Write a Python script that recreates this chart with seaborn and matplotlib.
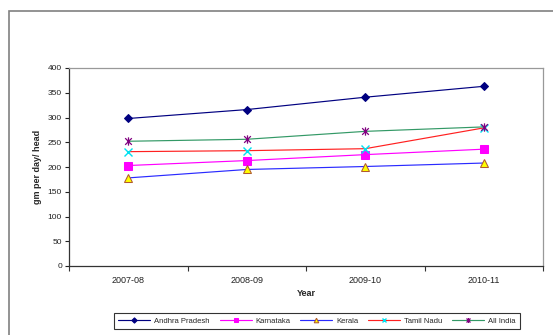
import matplotlib
matplotlib.use("Agg")
import matplotlib.pyplot as plt
from matplotlib.patches import Rectangle
from matplotlib.path import Path
import seaborn as sns
import pandas as pd

years = ["2007-08", "2008-09", "2009-10", "2010-11"]
andhra_pradesh = [298, 316, 341, 363]
karnataka = [203, 213, 225, 236]
kerala = [178, 195, 201, 208]
tamil_nadu = [231, 233, 237, 279]
all_india = [252, 256, 272, 281]

series_names = ["Andhra Pradesh", "Karnataka", "Kerala", "Tamil Nadu", "All India"]
series_values = [andhra_pradesh, karnataka, kerala, tamil_nadu, all_india]

# star marker: a cross with a vertical bar through it
star_path = Path(
    [(-1, -1), (1, 1), (-1, 1), (1, -1), (0, -1.25), (0, 1.25)],
    [Path.MOVETO, Path.LINETO, Path.MOVETO, Path.LINETO, Path.MOVETO, Path.LINETO],
)

styles = {
    "Andhra Pradesh": dict(color="#000080", marker="D", markersize=4.5,
                           markerfacecolor="#000080", markeredgecolor="#000080"),
    "Karnataka": dict(color="#FF00FF", marker="s", markersize=5.5,
                      markerfacecolor="#FF00FF", markeredgecolor="#FF00FF"),
    "Kerala": dict(color="#2A2AFF", marker="^", markersize=5.5,
                   markerfacecolor="#FFFF00", markeredgecolor="#B05A30"),
    "Tamil Nadu": dict(color="#FF2020", marker="x", markersize=5.5,
                       markerfacecolor="#00FFFF", markeredgecolor="#00E0F0",
                       markeredgewidth=1.0),
    "All India": dict(color="#339966", marker=star_path, markersize=6,
                      markerfacecolor="#800080", markeredgecolor="#800080",
                      markeredgewidth=0.9),
}

rows = []
for name, vals in zip(series_names, series_values):
    for i, (yr, v) in enumerate(zip(years, vals)):
        rows.append({"series": name, "pos": i, "year": yr, "value": v})
df = pd.DataFrame(rows)

sns.set_theme(style="white")
plt.rcParams["font.family"] = ["Liberation Sans", "DejaVu Sans"]

fig = plt.figure(figsize=(5.53, 3.35), dpi=100)
fig.patch.set_facecolor("white")
ax = fig.add_axes([69 / 553, 1 - 266 / 335, (543 - 69) / 553, (266 - 68) / 335])

for name in series_names:
    sub = df[df["series"] == name]
    st = dict(styles[name])
    color = st.pop("color")
    sns.lineplot(data=sub, x="pos", y="value", ax=ax, color=color,
                 linewidth=0.85, label=name, **st)

ax.set_xlim(-0.5, 3.5)
ax.set_ylim(0, 400)
ax.set_yticks(range(0, 401, 50))
ax.tick_params(axis="y", labelsize=6, length=3, width=0.8, direction="out",
               left=True, pad=2, colors="#222222")
ax.set_xticks(range(len(years)))
ax.set_xticklabels(years)
ax.set_xticks([-0.5, 0.5, 1.5, 2.5, 3.5], minor=True)
ax.tick_params(axis="x", which="major", length=0, labelsize=6.5, pad=7,
               colors="#222222")
ax.tick_params(axis="x", which="minor", length=3.5, width=0.8,
               direction="out", bottom=True, color="#333333")

for side in ["left", "bottom"]:
    ax.spines[side].set_color("#333333")
    ax.spines[side].set_linewidth(0.9)
for side in ["top", "right"]:
    ax.spines[side].set_color("#999999")
    ax.spines[side].set_linewidth(0.9)

ax.set_xlabel("Year", fontsize=6.5, fontweight="bold", labelpad=3)
ax.set_ylabel("gm per day/ head", fontsize=6.5, fontweight="bold", labelpad=4)

handles, labels = ax.get_legend_handles_labels()
if ax.legend_:
    ax.legend_.remove()
leg = fig.legend(handles, labels, ncol=5, loc="center",
                 bbox_to_anchor=(317 / 553, 1 - 321 / 335),
                 fontsize=5.5, frameon=True, fancybox=False,
                 edgecolor="#000000", handlelength=4.2, handletextpad=0.5,
                 columnspacing=1.3, borderpad=0.55, markerscale=0.6)
leg.get_frame().set_linewidth(0.8)

# outer chart frame
fig.add_artist(Rectangle((9 / 553, -0.05), 1.2, 1 - 11 / 335 + 0.05,
                         transform=fig.transFigure, fill=False,
                         edgecolor="#808080", linewidth=1.2))

fig.savefig("out.png", dpi=100)
